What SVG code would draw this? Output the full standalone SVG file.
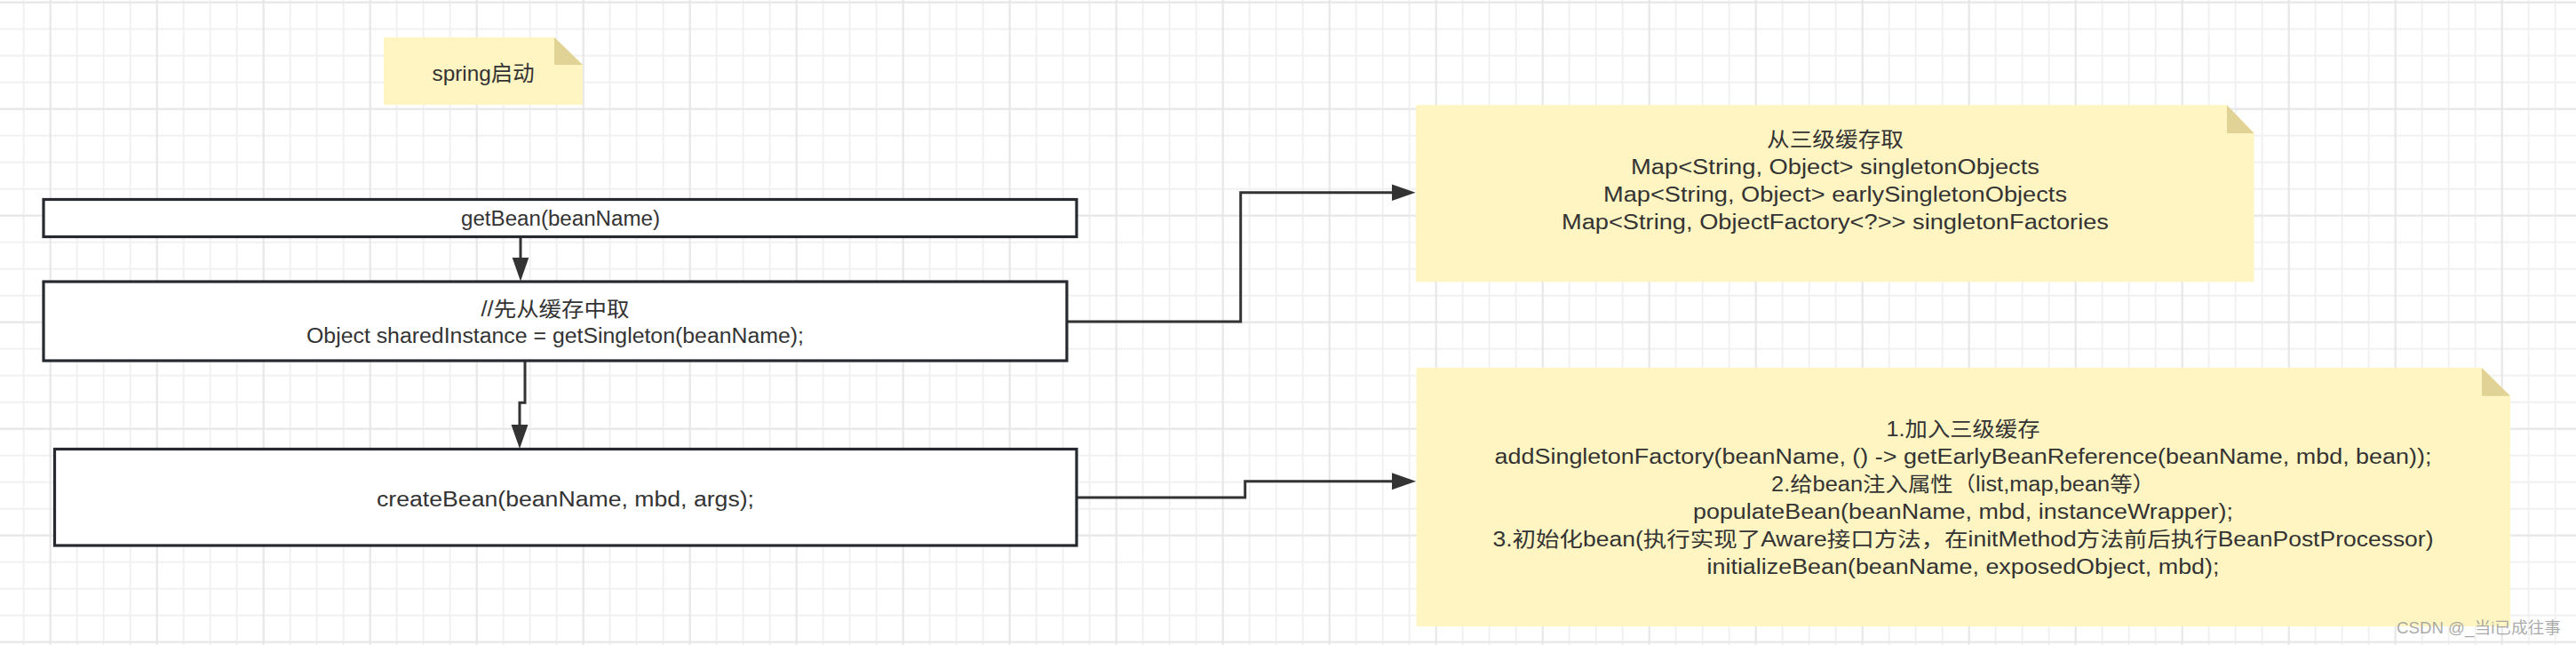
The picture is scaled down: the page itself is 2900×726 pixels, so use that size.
<svg xmlns="http://www.w3.org/2000/svg" width="2900" height="726" viewBox="0 0 2900 726">
  <defs>
    <pattern id="gridMinor" patternUnits="userSpaceOnUse" x="11.7" y="-12.3" width="30" height="30">
      <path d="M15,0 V30 M0,15 H30" stroke="#f1f1f1" stroke-width="2" fill="none"/>
    </pattern>
    <pattern id="gridMajor" patternUnits="userSpaceOnUse" x="-3.3" y="-57.3" width="120" height="120">
      <path d="M60,0 V120 M0,60 H120" stroke="#e7e7e7" stroke-width="2" fill="none"/>
    </pattern>
    <marker id="arr" markerUnits="userSpaceOnUse" markerWidth="28" markerHeight="20" viewBox="0 0 28 20" refX="0.5" refY="9.5" orient="auto">
      <path d="M0,0 L27,9.5 L0,19 Z" fill="#333333"/>
    </marker>
    <style>
      .box { fill: #ffffff; stroke: #262a30; stroke-width: 3.2; }
      .note { fill: #fff5c2; }
      .fold { fill: #e1d296; }
      .edge { fill: none; stroke: #333333; stroke-width: 3; }
      .t { font-family: "Liberation Sans", "Noto Sans CJK SC", sans-serif; fill: #333333; text-anchor: middle; }
      .bt { font-size: 23px; }
      .nt { font-size: 23px; }
      .wm { font-family: "Liberation Sans", "Noto Sans CJK SC", sans-serif; font-size: 18px; fill: #9a9a9a; fill-opacity: 0.85; }
    </style>
  </defs>

  <rect x="0" y="0" width="2900" height="726" fill="#ffffff"/>
  <rect x="0" y="0" width="2900" height="726" fill="url(#gridMinor)"/>
  <rect x="0" y="0" width="2900" height="726" fill="url(#gridMajor)"/>

  <g id="note-spring">
    <path class="note" d="M432,42 H624 L656,73 V118 H432 Z"/>
    <path class="fold" d="M624,42 V73 H656 Z"/>
    <text class="t" x="544" y="91" font-size="24" textLength="115" lengthAdjust="spacingAndGlyphs">spring启动</text>
  </g>

  <g id="connectors">
    <path class="edge" d="M586,266.7 V290" marker-end="url(#arr)"/>
    <path class="edge" d="M591,406 V453.3 H585 V478.5" marker-end="url(#arr)"/>
    <path class="edge" d="M1201,362 H1396.7 V216.7 H1567" marker-end="url(#arr)"/>
    <path class="edge" d="M1212,560 H1401.7 V541.7 H1567.5" marker-end="url(#arr)"/>
  </g>

  <g id="node-getBean">
    <rect class="box" x="49" y="224.5" width="1163" height="42"/>
    <text class="t bt" x="631" y="254" textLength="224" lengthAdjust="spacingAndGlyphs">getBean(beanName)</text>
  </g>

  <g id="node-getSingleton">
    <rect class="box" x="49" y="317" width="1152" height="89"/>
    <text class="t bt" x="625" y="356" textLength="167" lengthAdjust="spacingAndGlyphs">//先从缓存中取</text>
    <text class="t bt" x="625" y="386" textLength="560" lengthAdjust="spacingAndGlyphs">Object sharedInstance = getSingleton(beanName);</text>
  </g>

  <g id="node-createBean">
    <rect class="box" x="61.5" y="505.5" width="1150.5" height="108.5"/>
    <text class="t bt" x="636.5" y="570" textLength="425" lengthAdjust="spacingAndGlyphs">createBean(beanName, mbd, args);</text>
  </g>

  <g id="note-cache">
    <path class="note" d="M1594,118.3 H2507 L2537.5,150 V317.3 H1594 Z"/>
    <path class="fold" d="M2507,118.3 V150 H2537.5 Z"/>
    <text class="t nt" x="2066" y="165" textLength="154" lengthAdjust="spacingAndGlyphs">从三级缓存取</text>
    <text class="t nt" x="2066" y="196" textLength="460" lengthAdjust="spacingAndGlyphs">Map&lt;String, Object&gt; singletonObjects</text>
    <text class="t nt" x="2066" y="227" textLength="522" lengthAdjust="spacingAndGlyphs">Map&lt;String, Object&gt; earlySingletonObjects</text>
    <text class="t nt" x="2066" y="258" textLength="616" lengthAdjust="spacingAndGlyphs">Map&lt;String, ObjectFactory&lt;?&gt;&gt; singletonFactories</text>
  </g>

  <g id="note-create">
    <path class="note" d="M1594.5,414 H2794 L2826,445.7 V705 H1594.5 Z"/>
    <path class="fold" d="M2794,414 V445.7 H2826 Z"/>
    <text class="t nt" x="2210" y="490.5" textLength="173" lengthAdjust="spacingAndGlyphs">1.加入三级缓存</text>
    <text class="t nt" x="2210" y="521.5" textLength="1055" lengthAdjust="spacingAndGlyphs">addSingletonFactory(beanName, () -&gt; getEarlyBeanReference(beanName, mbd, bean));</text>
    <text class="t nt" x="2210" y="552.5" textLength="432" lengthAdjust="spacingAndGlyphs">2.给bean注入属性（list,map,bean等）</text>
    <text class="t nt" x="2210" y="583.5" textLength="608" lengthAdjust="spacingAndGlyphs">populateBean(beanName, mbd, instanceWrapper);</text>
    <text class="t nt" x="2210" y="614.5" textLength="1059" lengthAdjust="spacingAndGlyphs">3.初始化bean(执行实现了Aware接口方法，在initMethod方法前后执行BeanPostProcessor)</text>
    <text class="t nt" x="2210" y="645.5" textLength="577" lengthAdjust="spacingAndGlyphs">initializeBean(beanName, exposedObject, mbd);</text>
  </g>

  <text class="wm" x="2698" y="713" textLength="185" lengthAdjust="spacingAndGlyphs">CSDN @_当i已成往事</text>
</svg>
